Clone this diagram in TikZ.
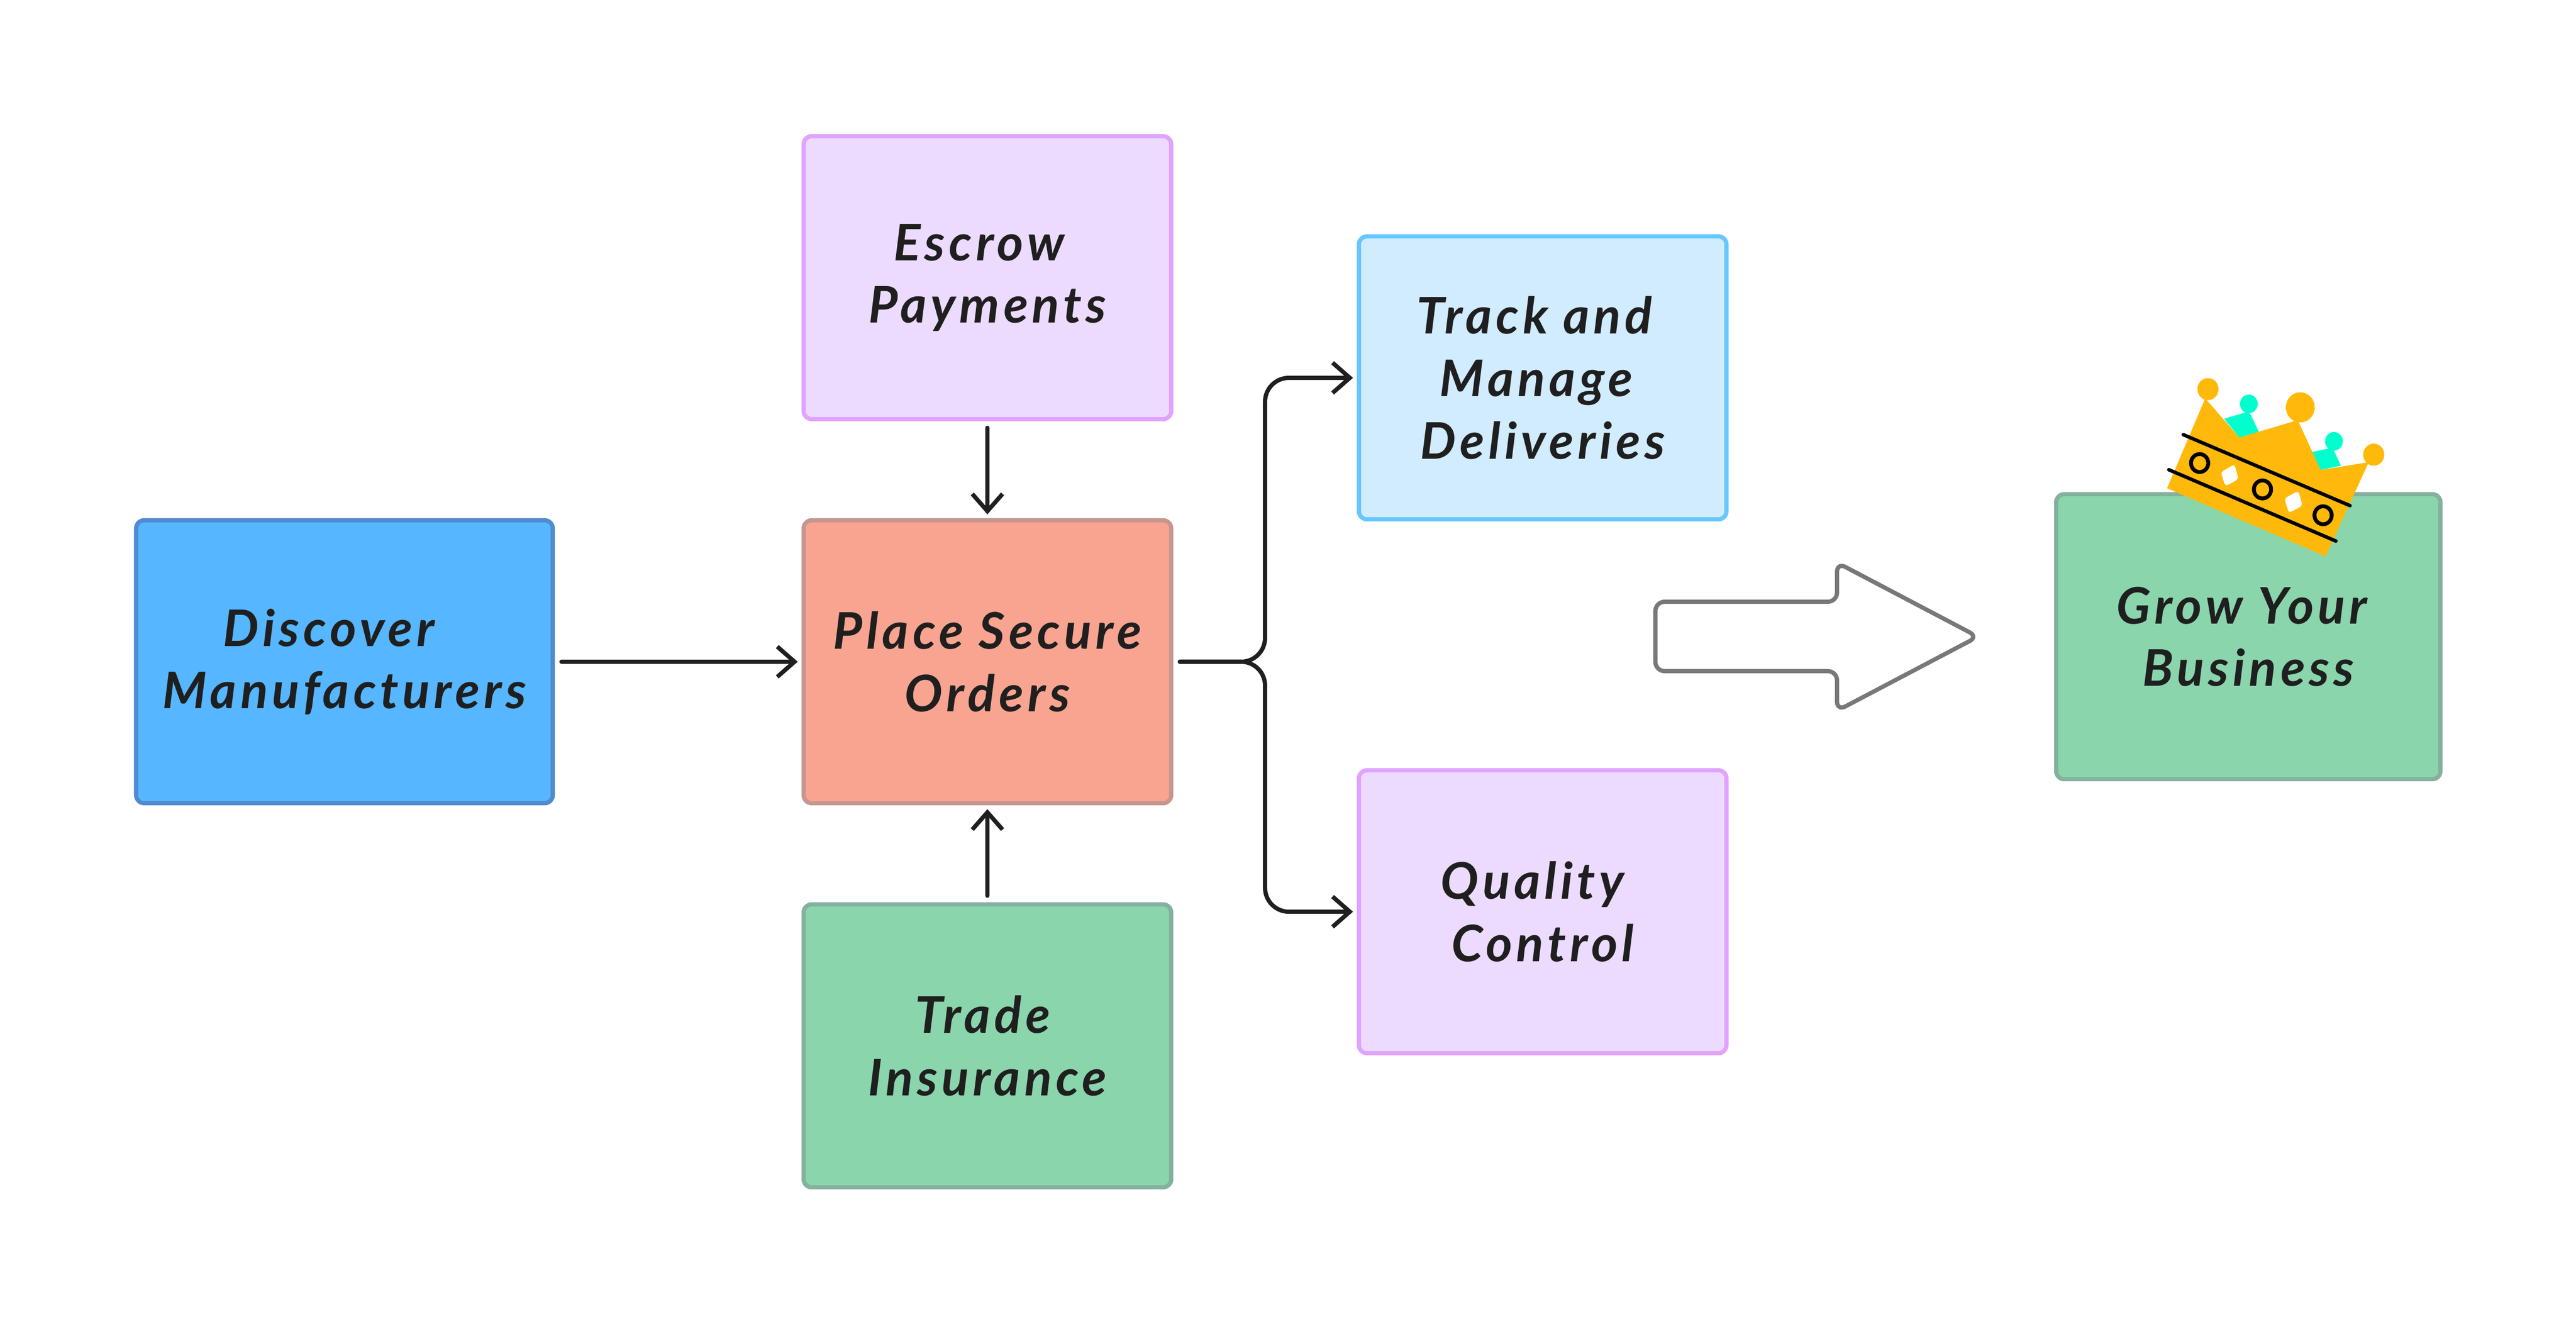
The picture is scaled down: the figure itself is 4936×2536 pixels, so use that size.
\documentclass[tikz,border=0pt]{standalone}
\usepackage{fontspec}
\setmainfont{Lato}[LetterSpace=8]
\usetikzlibrary{arrows.meta}
\definecolor{blueFill}{HTML}{56B6FF}
\definecolor{blueLine}{HTML}{4F8BCF}
\definecolor{redFill}{HTML}{F8A490}
\definecolor{redLine}{HTML}{C69690}
\definecolor{greenFill}{HTML}{8AD5AC}
\definecolor{greenLine}{HTML}{84B19E}
\definecolor{purpleFill}{HTML}{EDDBFF}
\definecolor{purpleLine}{HTML}{E0A3FF}
\definecolor{skyFill}{HTML}{D1EBFF}
\definecolor{skyLine}{HTML}{66C7FF}
\definecolor{crownGold}{HTML}{FFB90B}
\definecolor{crownTeal}{HTML}{00FFCC}
\tikzset{
    box/.style={draw, line width=2.3pt, rounded corners=4.5pt, minimum width=7.04cm, minimum height=5.42cm,
        outer sep=3.2pt, align=center, text=black!88, font=\fontsize{27.5}{34}\selectfont\bfseries\itshape},
    flow/.style={line width=2.3pt, color=black!88, line cap=round, line join=round, shorten <=1.5pt, -{Straight Barb[length=9.4pt, width=16.5pt]}},
    bigarrow/.style={line width=2.3pt, color=black!53, rounded corners=5pt},
    band/.style={line width=1.9pt, line cap=round, color=black},
    ring/.style={line width=2.1pt, color=black, fill=crownGold}
}
\begin{document}
\begin{tikzpicture}[x=0.01cm, y=-0.01cm]
    \useasboundingbox (0,0) rectangle (4936,2536);
    % Nodes with manual coordinates
    \node[box, fill=blueFill, draw=blueLine, minimum width=7.98cm] (discover) at (660,1268) {Discover\kern17pt\\Manufacturers};
    \node[box, fill=redFill, draw=redLine] (place) at (1892,1268) {Place Secure\\Orders};
    \node[box, fill=purpleFill, draw=purpleLine] (escrow) at (1892,532) {Escrow\kern9pt\\Payments};
    \node[box, fill=greenFill, draw=greenLine] (trade) at (1892,2004) {Trade\kern5pt\\Insurance};
    \node[box, fill=skyFill, draw=skyLine] (track) at (2956,724) {Track and\kern9pt\\Manage\kern7pt\\Deliveries};
    \node[box, fill=purpleFill, draw=purpleLine] (quality) at (2956,1747) {Quality\kern11pt\\Control};
    \node[box, fill=greenFill, draw=greenLine, minimum width=7.36cm, minimum height=5.46cm] (grow) at (4308,1220) {Grow Your\kern7pt\\Business};
    \coordinate (fork) at (2424,1268);

    % Edges
    \draw[flow] (discover) -- (place);
    \draw[flow] (escrow) -- (place);
    \draw[flow] (trade) -- (place);
    \draw[flow, rounded corners=13pt] (place.east) -- (fork) |- (track.west);
    \draw[flow, rounded corners=13pt] (place.east) -- (fork) |- (quality.west);

    % Big arrow
    \draw[bigarrow] (3172,1153) -- (3520,1153) -- (3520,1078) -- (3790,1220) -- (3520,1362) -- (3520,1286) -- (3172,1286) -- cycle;

    % Crown
    \begin{scope}[shift={(3902,680)}, x=0.00533cm, y=-0.00555cm]
        \fill[crownTeal] (675,220) -- (765,195) -- (800,265) -- (730,285) -- cycle;
        \fill[crownTeal] (990,335) -- (1065,320) -- (1095,382) -- (1022,397) -- cycle;
        \fill[crownTeal] (764,169) circle [radius=32];
        \fill[crownTeal] (1070,298) circle [radius=32];
        \fill[crownGold] (617,118) circle [radius=38];
        \fill[crownGold] (949,181) circle [radius=52];
        \fill[crownGold] (1213,344) circle [radius=38];
        \fill[crownGold] (470,460) -- (607,150) -- (730,285) -- (940,225) -- (1022,397) -- (1195,370) -- (1040,695) -- cycle;
        \draw[band] (528,275) -- (1128,520);
        \draw[band] (476,396) -- (1077,642);
        \draw[ring] (587,373) circle [radius=31];
        \draw[ring] (813,464) circle [radius=31];
        \draw[ring] (1031,553) circle [radius=31];
        \fill[white, rounded corners=1.5pt] (663,405) -- (712,377) -- (727,428) -- (680,453) -- cycle;
        \fill[white, rounded corners=1.5pt] (892,495) -- (942,469) -- (957,520) -- (908,545) -- cycle;
    \end{scope}
\end{tikzpicture}
\end{document}
